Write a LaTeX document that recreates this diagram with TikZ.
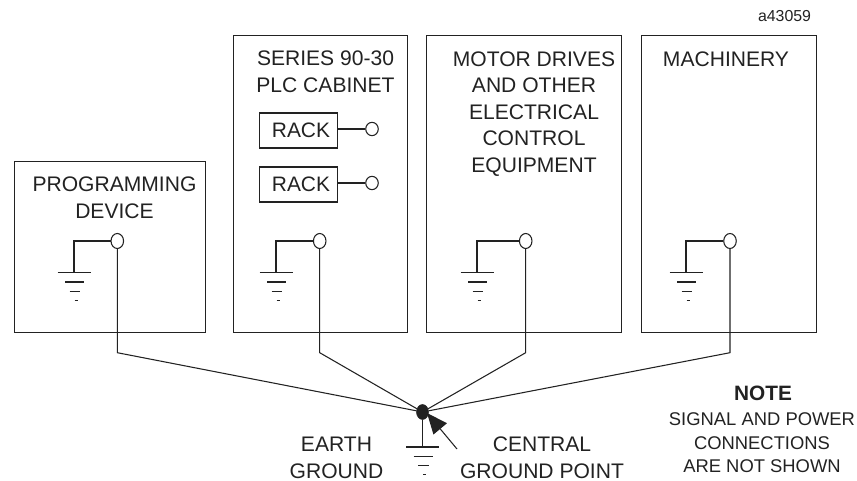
\documentclass[tikz,border=0pt]{standalone}
\usepackage{fontspec}
\setmainfont{Liberation Sans}
\usepackage{xcolor}
\definecolor{PlateInk}{HTML}{222222}
\usepackage{tikz}
\usetikzlibrary{arrows.meta,shapes.geometric}
\tikzset{
  cabinet/.style={draw=PlateInk,line width=0.8pt,minimum width=#1,inner sep=0pt,anchor=north west},
  rackbox/.style={draw=PlateInk,line width=0.8pt,minimum width=59pt,minimum height=26.25pt,inner sep=0pt,text=PlateInk,font=\fontsize{15.7}{18}\selectfont},
  lug/.style={draw=PlateInk,fill=white,line width=0.8pt,ellipse,inner sep=0pt,minimum width=9.4pt,minimum height=#1},
  lug/.default=11.25pt,
  boxtitle/.style={align=center,inner sep=0pt,text=PlateInk,font=\fontsize{15.8}{19.9}\selectfont},
  notetext/.style={align=center,inner sep=0pt,text=PlateInk,font=\fontsize{13.8}{17.6}\selectfont},
  wire/.style={draw=PlateInk,line width=0.8pt},
  gnd/.pic={
    \draw[wire] (-16.5,0) -- (16.5,0);
    \draw[wire] (-9,9.3) -- (10,9.3);
    \draw[wire] (-4.5,18.5) -- (6,18.5);
    \draw[wire] (0.5,27.5) -- (3.5,27.5);
  }
}
\begin{document}
\begin{tikzpicture}[x=0.75pt,y=-0.75pt]
  \useasboundingbox (0,0) rectangle (857,481);
  % cabinets
  \node[cabinet=143.25pt,minimum height=128.25pt] (device) at (13.5,161) {};
  \node[cabinet=130.9pt,minimum height=222.75pt] (plc) at (232.5,35) {};
  \node[cabinet=146.25pt,minimum height=222.75pt] (drives) at (426,35) {};
  \node[cabinet=131.6pt,minimum height=222.75pt] (machinery) at (640.5,35) {};
  \node[boxtitle] (devicetxt) at (114.5,197.5) {PROGRAMMING\\DEVICE};
  \node[boxtitle] (plctxt) at (325.5,72) {SERIES 90-30\\PLC CABINET};
  \node[boxtitle] (drivestxt) at (534,114) {MOTOR DRIVES\\AND OTHER\\ELECTRICAL\\CONTROL\\EQUIPMENT};
  \node[boxtitle] (machinerytxt) at (726,59) {MACHINERY};
  \node[inner sep=0pt,text=PlateInk,font=\fontsize{11.9}{14}\selectfont] (fignum) at (784.5,16) {a43059};
  % racks
  \node[rackbox] (rackone) at (298.5,130.5) {\hspace*{3.75pt}RACK};
  \node[rackbox] (racktwo) at (298.5,184.5) {\hspace*{3.75pt}RACK};
  \node[lug=10pt] (rackonelug) at (372,129) {};
  \node[lug=10pt] (racktwolug) at (372,183) {};
  \draw[wire] (rackone.east|-rackonelug) -- (rackonelug);
  \draw[wire] (racktwo.east|-racktwolug) -- (racktwolug);
  % local grounds
  \node[lug] (devicelug) at (117.3,241) {};
  \node[lug] (plclug) at (319.7,241) {};
  \node[lug] (driveslug) at (525.7,241) {};
  \node[lug] (machinerylug) at (730,241) {};
  \foreach \lugname/\gx in {devicelug/74,plclug/276,driveslug/477,machinerylug/686}{
    \coordinate (gndtop) at (\gx,272.7);
    \draw[wire] (\lugname.west) -| (gndtop);
    \pic at (gndtop) {gnd};
  }
  % central ground point
  \node[draw=PlateInk,fill=PlateInk,ellipse,inner sep=0pt,minimum width=9pt,minimum height=11.25pt] (central) at (422.5,412) {};
  \coordinate (centralgnd) at (422.5,447);
  \draw[wire] (central) -- (centralgnd);
  \pic at (centralgnd) {gnd};
  \foreach \lugname/\bx in {devicelug/117.3,plclug/319.7,driveslug/525.7,machinerylug/730}{
    \coordinate (bend) at (\bx,352.7);
    \draw[wire] (\lugname.south) -- (bend) -- (central);
  }
  % pointer
  \coordinate (pointertail) at (457,449);
  \coordinate (pointertip) at (427,413);
  \draw[wire,-{Triangle[length=15.5pt,width=13pt]}] (pointertail) -- (pointertip);
  \node[boxtitle] (earthtxt) at (336.5,458) {EARTH\\GROUND};
  \node[boxtitle] (centraltxt) at (542,458) {CENTRAL\\GROUND POINT};
  % note
  \node[inner sep=0pt,text=PlateInk,font=\fontsize{15.6}{18}\selectfont] (notehead) at (763,393) {\textbf{NOTE}};
  \node[notetext] (notetxt) at (762,443) {SIGNAL AND POWER\\CONNECTIONS\\ARE NOT SHOWN};
\end{tikzpicture}
\end{document}
